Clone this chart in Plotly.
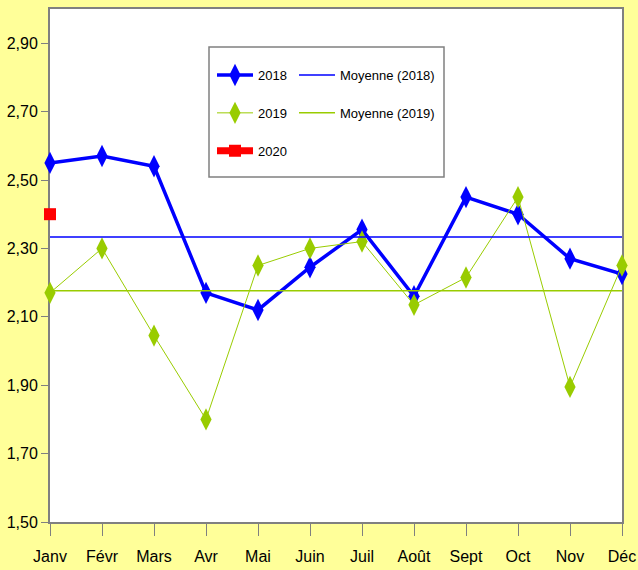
import plotly.graph_objects as go

months = ["Janv", "Févr", "Mars", "Avr", "Mai", "Juin", "Juil", "Août", "Sept", "Oct", "Nov", "Déc"]
v2018 = [2.55, 2.57, 2.54, 2.17, 2.12, 2.245, 2.355, 2.16, 2.45, 2.40, 2.27, 2.225]
v2019 = [2.17, 2.30, 2.045, 1.80, 2.25, 2.30, 2.32, 2.135, 2.215, 2.45, 1.895, 2.25]
v2020 = [2.40]
mean2018 = 2.333
mean2019 = 2.176

FONT = "Liberation Sans Narrow, Arial Narrow, Liberation Sans, Arial, sans-serif"
BLUE = "#0000FF"
GREEN = "#99CC00"
RED = "#FF0000"

fig = go.Figure()
fig.add_trace(go.Scatter(x=months, y=v2018, name="2018", mode="lines+markers",
                         line=dict(color=BLUE, width=3.5),
                         marker=dict(symbol="diamond-tall", size=16, color=BLUE),
                         cliponaxis=False, legend="legend", legendgroup="a"))
fig.add_trace(go.Scatter(x=months, y=v2019, name="2019", mode="lines+markers",
                         line=dict(color=GREEN, width=1),
                         marker=dict(symbol="diamond-tall", size=16, color=GREEN),
                         cliponaxis=False, legend="legend", legendgroup="b"))
fig.add_trace(go.Scatter(x=months[:1], y=v2020, name="2020", mode="lines+markers",
                         line=dict(color=RED, width=7),
                         marker=dict(symbol="square", size=12, color=RED),
                         cliponaxis=False, legend="legend", legendgroup="c"))
fig.add_trace(go.Scatter(x=months, y=[mean2018] * len(months), name="Moyenne (2018)", mode="lines",
                         line=dict(color=BLUE, width=1.5), legend="legend2", legendgroup="d"))
fig.add_trace(go.Scatter(x=months, y=[mean2019] * len(months), name="Moyenne (2019)", mode="lines",
                         line=dict(color=GREEN, width=1.5), legend="legend2", legendgroup="e"))

L, R, T, B = 50, 622, 9, 522
W, H = 638, 570

def px(x):
    return (x - L) / (R - L)

def py(y):
    return (B - y) / (B - T)

legend_common = dict(bgcolor="rgba(0,0,0,0)", borderwidth=0, font=dict(family=FONT, size=13, color="#000"),
                     xanchor="left", yanchor="top", tracegroupgap=18, itemwidth=36)

fig.update_layout(
    width=W, height=H,
    margin=dict(l=L, r=W - R, t=T, b=H - B, autoexpand=False),
    paper_bgcolor="#FFFF99",
    plot_bgcolor="#FFFFFF",
    separators=", ",
    font=dict(family=FONT, size=15, color="#000"),
    showlegend=True,
    legend=dict(x=px(212), y=py(60), **legend_common),
    legend2=dict(x=px(294), y=py(60), **legend_common),
    xaxis=dict(range=[0, 11], showgrid=False, showline=True, linecolor="#808080", linewidth=2,
               mirror=True, ticks="outside", ticklen=12, tickcolor="#808080", tickwidth=1,
               tickfont=dict(family=FONT, size=16), ticklabelstandoff=7, layer="below traces",
               zeroline=False, automargin=False),
    yaxis=dict(range=[1.5, 3.0], tick0=1.5, dtick=0.2, tickformat=".2f", showgrid=False,
               showline=True, linecolor="#808080", linewidth=2, mirror=True, ticks="outside",
               ticklen=7, tickcolor="#808080", tickwidth=1, tickfont=dict(family=FONT, size=16),
               layer="below traces", zeroline=False, automargin=False),
    shapes=[dict(type="rect", xref="paper", yref="paper", x0=px(209), x1=px(444), y0=py(177), y1=py(47),
                 line=dict(color="#808080", width=1.5), fillcolor="#FFFFFF", layer="below")],
)

fig.write_html("out.html", config={"displayModeBar": False},
               post_script="document.body.style.margin='0';document.body.style.padding='0';"
                           "document.body.style.overflow='hidden';")
